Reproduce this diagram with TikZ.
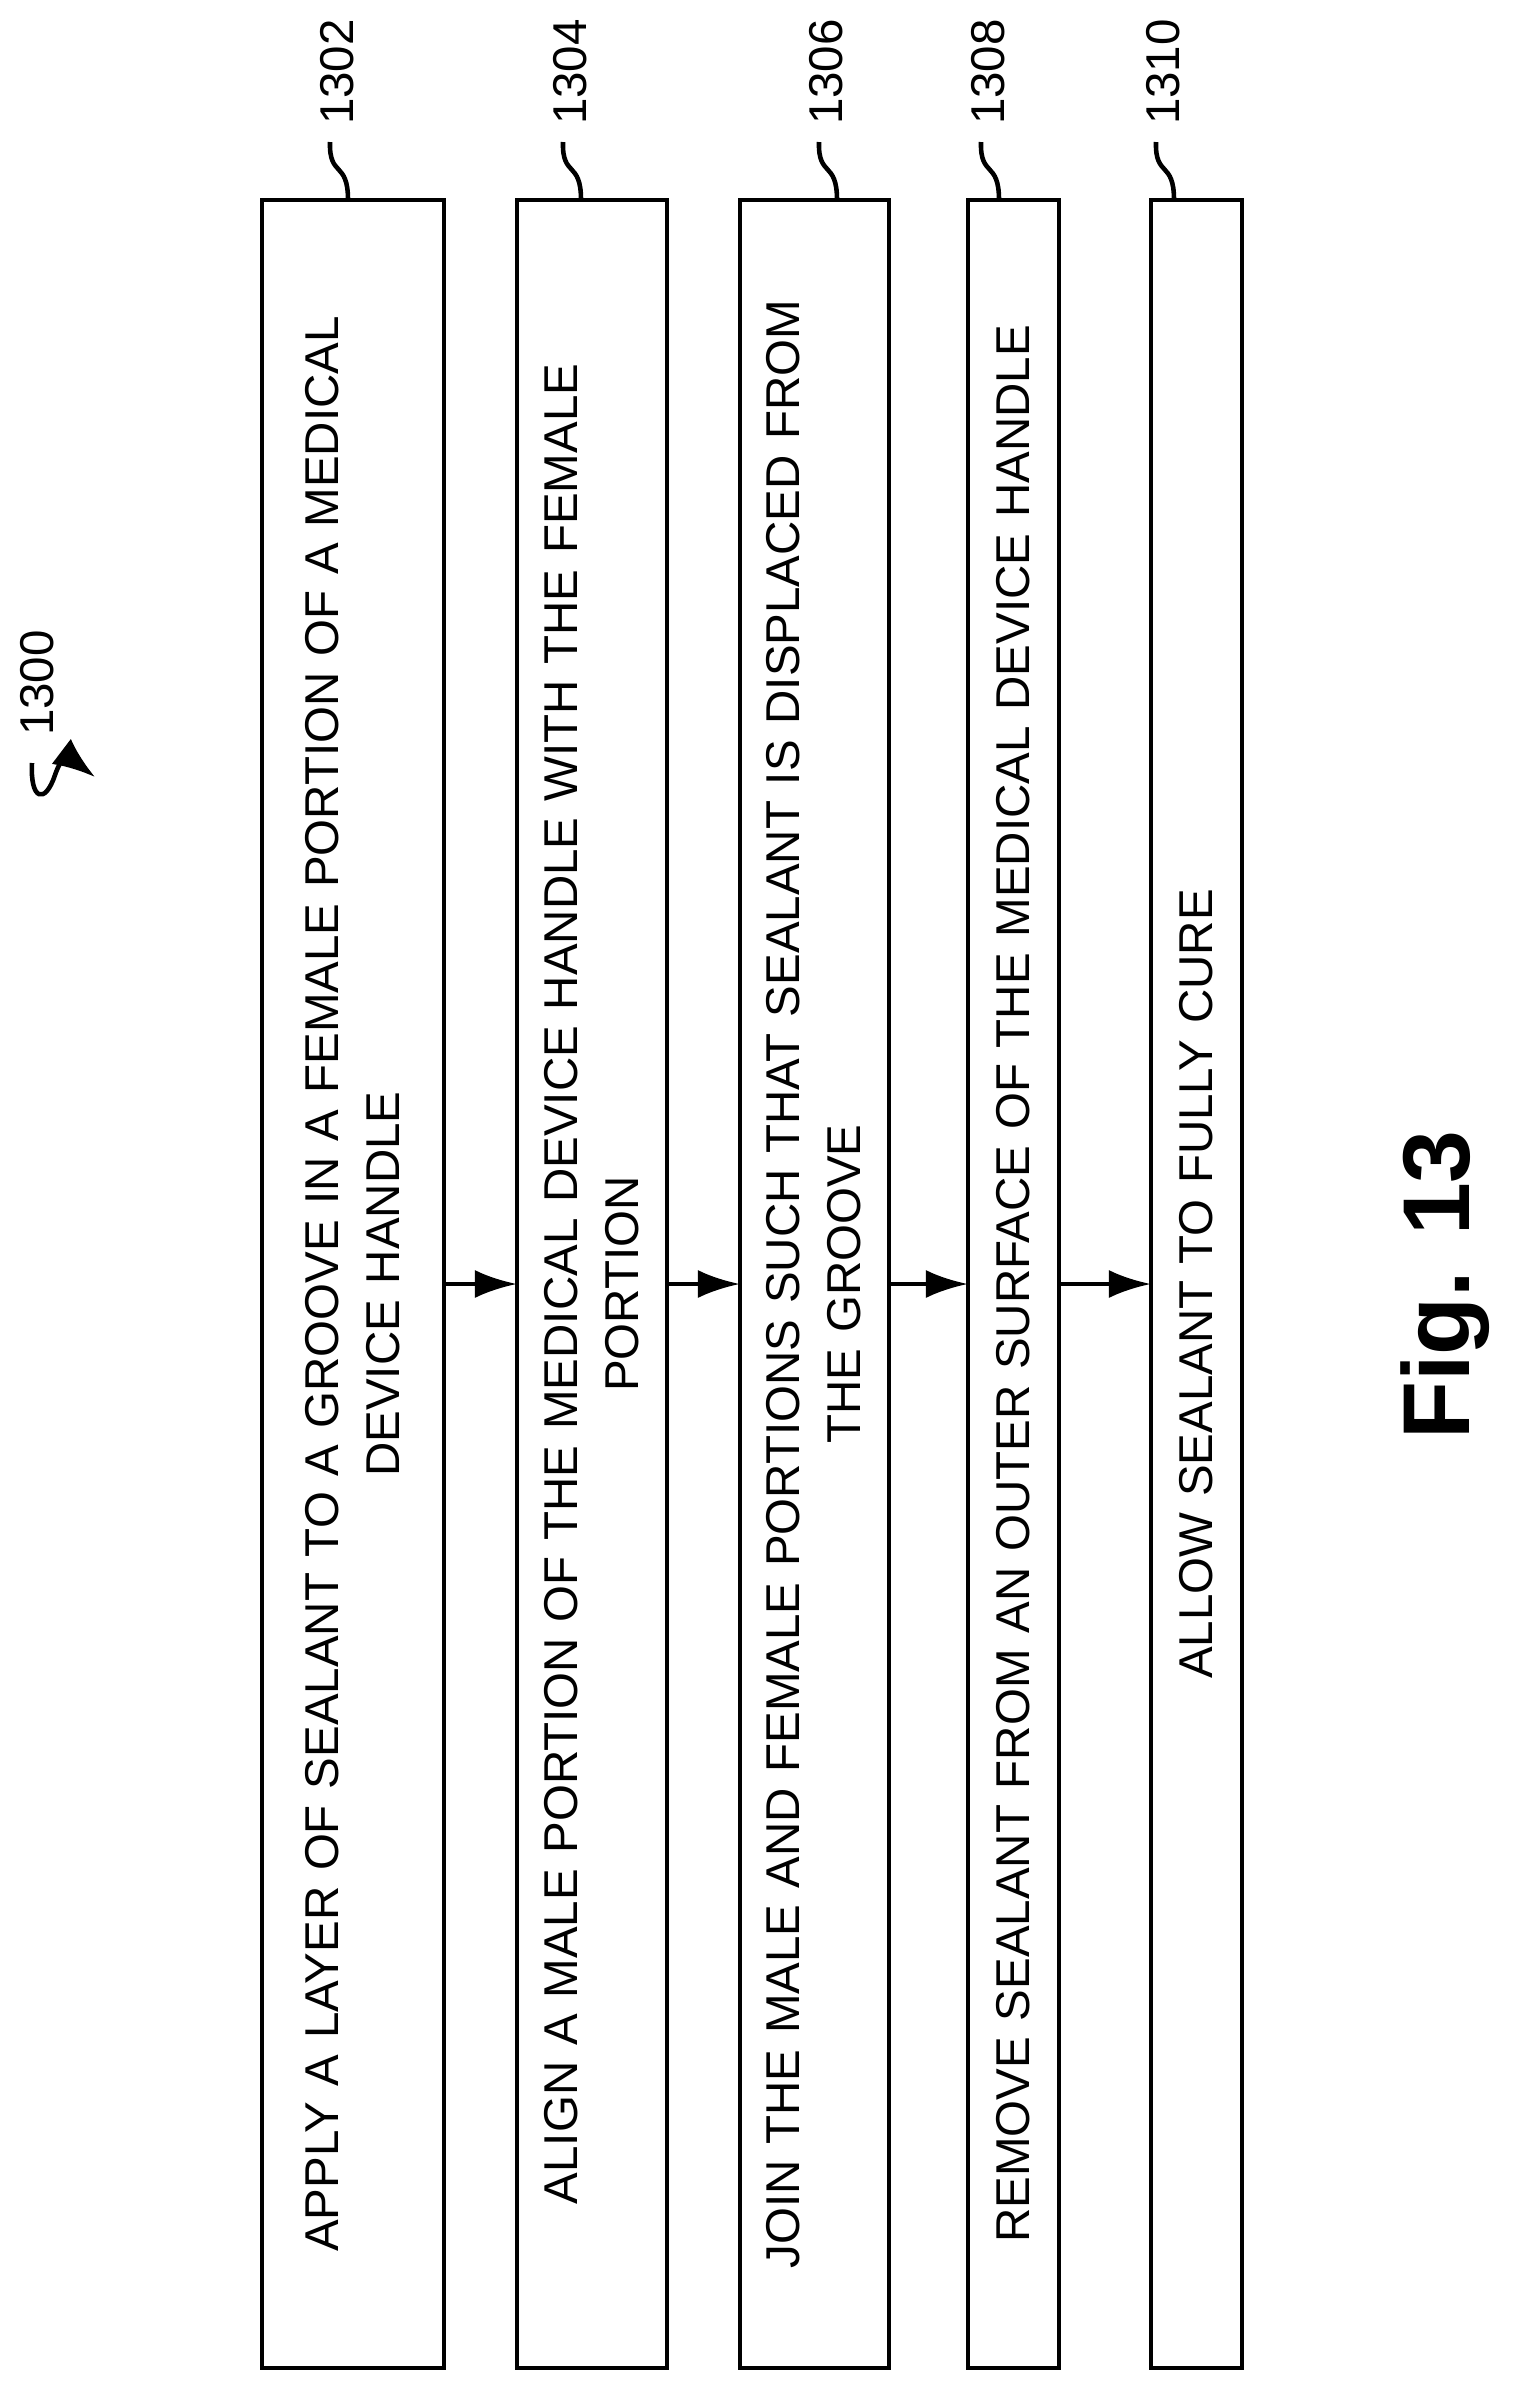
\documentclass[tikz,border=0pt]{standalone}
\usepackage{fontspec}
\setmainfont{Liberation Sans}
\usetikzlibrary{positioning,arrows.meta}

\begin{document}
\begin{tikzpicture}[
  x=0.01cm, y=-0.01cm,
  line width=1.3pt,
  steprect/.style={draw, line width=1.3pt},
  steptext/.style={rotate=90, align=center, text width=21cm,
    font=\fontsize{13.5}{17.3}\selectfont},
  reflabel/.style={rotate=90, font=\fontsize{13.5}{16}\selectfont},
  flow/.style={-{Latex[length=12pt,width=8pt]}, line width=1.3pt}
]
\useasboundingbox (0,0) rectangle (1520,2387);

% step boxes
\draw[steprect] (262,200) rectangle (444,2368);
\draw[steprect] (517,200) rectangle (667,2368);
\draw[steprect] (740,200) rectangle (889,2368);
\draw[steprect] (968,200) rectangle (1059,2368);
\draw[steprect] (1151,200) rectangle (1242,2368);

\node[steptext] (s1) at (353,1284) {APPLY A LAYER OF SEALANT TO A GROOVE IN A FEMALE PORTION OF A MEDICAL\\DEVICE HANDLE};
\node[steptext] (s2) at (592,1284) {ALIGN A MALE PORTION OF THE MEDICAL DEVICE HANDLE WITH THE FEMALE\\PORTION};
\node[steptext] (s3) at (814,1284) {JOIN THE MALE AND FEMALE PORTIONS SUCH THAT SEALANT IS DISPLACED FROM\\THE GROOVE};
\node[steptext] (s4) at (1013,1284) {REMOVE SEALANT FROM AN OUTER SURFACE OF THE MEDICAL DEVICE HANDLE};
\node[steptext] (s5) at (1196,1284) {ALLOW SEALANT TO FULLY CURE};

% arrows between boxes
\coordinate (a1) at (444,1284); \coordinate (b1) at (517,1284);
\coordinate (a2) at (667,1284); \coordinate (b2) at (740,1284);
\coordinate (a3) at (889,1284); \coordinate (b3) at (968,1284);
\coordinate (a4) at (1059,1284); \coordinate (b4) at (1151,1284);
\foreach \i in {1,2,3,4}
  \draw[flow] (a\i) -- (b\i);

% reference labels with leaders
\foreach \lx/\bx/\txt in {337/348/1302, 570/581/1304, 826/837/1306, 988/999/1308, 1163/1174/1310}{
  \node[reflabel] (l\txt) at (\lx,72) {\txt};
  \draw (\bx,200) .. controls (\bx,160) and (\lx-8,178) .. (\lx-7,142);
}

% figure reference
\node[reflabel] (fig) at (37,683) {1300};
\draw (32,763) .. controls (30,800) and (45,805) .. (55,775)
  .. controls (62,755) and (70,750) .. (78,760);
\draw[-{Latex[length=12pt,width=9pt]}] (70,758) -- (95,777);

\node[rotate=90, font=\bfseries\fontsize{27}{30}\selectfont] (figtitle) at (1445,1285) {Fig. 13};
\end{tikzpicture}
\end{document}
